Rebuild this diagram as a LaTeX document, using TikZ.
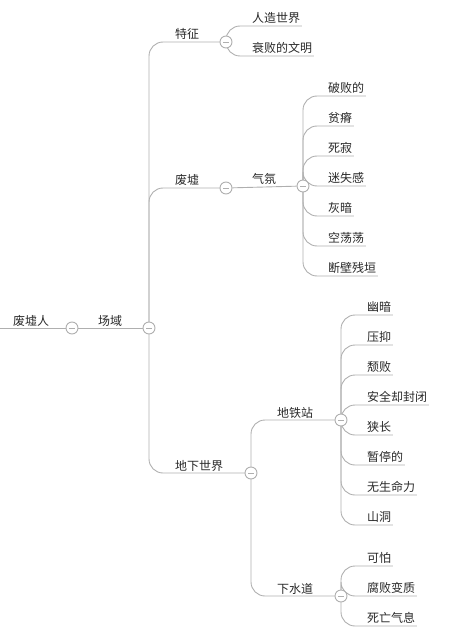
\documentclass[tikz,border=0pt]{standalone}
\usepackage{fontspec}
\setmainfont{Noto Sans CJK SC}
\definecolor{lnc}{RGB}{175,175,175}
\definecolor{txc}{RGB}{40,40,40}
\pgfdeclarelayer{background}
\pgfsetlayers{background,main}
\begin{document}
\begin{tikzpicture}[x=1pt,y=-1pt,
  ln/.style={draw=lnc, line width=0.9pt, rounded corners=14pt},
  tog/.style={circle, draw=lnc, line width=0.9pt, fill=white, minimum size=12pt, inner sep=0pt,
    path picture={\draw[lnc, line width=0.8pt] ([xshift=-2.8pt]path picture bounding box.center) -- ([xshift=2.8pt]path picture bounding box.center);}},
  txt/.style={anchor=base west, inner sep=0pt, text=txc, font=\fontsize{12pt}{14pt}\selectfont},
  leaf/.style={anchor=south west, inner xsep=1.5pt, inner ysep=3pt, text depth=0pt, text=txc, font=\fontsize{12pt}{14pt}\selectfont}
]
\useasboundingbox (0,0) rectangle (462,639);

% toggles
\node[tog] (c0) at (72,328) {};
\node[tog] (c1) at (149,328) {};
\node[tog] (ctz) at (226,42) {};
\node[tog] (cfx) at (226,188) {};
\node[tog] (cqf) at (303,186) {};
\node[tog] (cdx) at (251,473) {};
\node[tog] (cdt) at (341,420) {};
\node[tog] (cxs) at (341,596) {};
\coordinate (start) at (0,328);

% topic texts
\node[txt] (t0) at (13,325) {废墟人};
\node[txt] (t1) at (98,325) {场域};
\node[txt] (ttz) at (175,39) {特征};
\node[txt] (tfx) at (175,185) {废墟};
\node[txt] (tqf) at (252,183) {气氛};
\node[txt] (tdx) at (175,470) {地下世界};
\node[txt] (tdt) at (277,417) {地铁站};
\node[txt] (txs) at (277,593) {下水道};

% leaves
\node[leaf] (l1) at (250.5,26) {人造世界};
\node[leaf] (l2) at (250.5,56) {衰败的文明};

\node[leaf] (q1) at (326.5,96) {破败的};
\node[leaf] (q2) at (326.5,126) {贫瘠};
\node[leaf] (q3) at (326.5,156) {死寂};
\node[leaf] (q4) at (326.5,186) {迷失感};
\node[leaf] (q5) at (326.5,216) {灰暗};
\node[leaf] (q6) at (326.5,246) {空荡荡};
\node[leaf] (q7) at (326.5,276) {断壁残垣};

\node[leaf] (d1) at (365.5,315) {幽暗};
\node[leaf] (d2) at (365.5,345) {压抑};
\node[leaf] (d3) at (365.5,375) {颓败};
\node[leaf] (d4) at (365.5,405) {安全却封闭};
\node[leaf] (d5) at (365.5,435) {狭长};
\node[leaf] (d6) at (365.5,465) {暂停的};
\node[leaf] (d7) at (365.5,495) {无生命力};
\node[leaf] (d8) at (365.5,525) {山洞};

\node[leaf] (s1) at (365.5,566) {可怕};
\node[leaf] (s2) at (365.5,596) {腐败变质};
\node[leaf] (s3) at (365.5,626) {死亡气息};

\begin{pgfonlayer}{background}
\draw[ln] (start) -- (c0);
\draw[ln] (c0) -- (c1);
\draw[ln] (c1.center) |- (ctz.center);
\draw[ln] (c1.center) |- (cfx.center);
\draw[ln] (c1.center) |- (cdx.center);
\draw[ln] (ctz.center) |- (l1.south east);
\draw[ln] (ctz.center) |- (l2.south east);
\draw[ln] (cfx) -- (cqf);
\foreach \n in {q1,q2,q3,q4,q5,q6,q7} \draw[ln] (cqf.center) |- (\n.south east);
\draw[ln] (cdx.center) |- (cdt.center);
\draw[ln] (cdx.center) |- (cxs.center);
\foreach \n in {d1,d2,d3,d4,d5,d6,d7,d8} \draw[ln] (cdt.center) |- (\n.south east);
\foreach \n in {s1,s2,s3} \draw[ln] (cxs.center) |- (\n.south east);
\end{pgfonlayer}
\end{tikzpicture}
\end{document}
